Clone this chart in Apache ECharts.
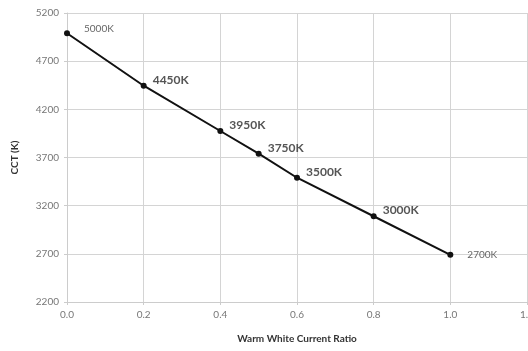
<!DOCTYPE html>
<html><head><meta charset="utf-8">
<script src="https://cdn.jsdelivr.net/npm/echarts@6/dist/echarts.min.js"></script>
<style>html,body{margin:0;padding:0;background:#fff}#c{width:528px;height:351px}</style>
</head><body><div id="c"></div>
<script>
const ratios = [0.0, 0.2, 0.4, 0.5, 0.6, 0.8, 1.0];
const cct = [4990, 4445, 3975, 3740, 3490, 3090, 2690];
const pointLabels = ['5000K', '4450K', '3950K', '3750K', '3500K', '3000K', '2700K'];
const boldLabel = [false, true, true, true, true, true, false];

const chart = echarts.init(document.getElementById('c'));
chart.setOption({
  animation: false,
  grid: {left: 67, right: 1, top: 13, bottom: 49, outerBoundsMode: 'none', containLabel: false},
  xAxis: {
    type: 'value', min: 0, max: 1.2, interval: 0.2,
    name: 'Warm White Current Ratio', nameLocation: 'middle', nameGap: 32,
    nameTextStyle: {fontFamily: 'Lato', fontWeight: 'bold', fontSize: 10, color: '#333'},
    axisLine: {show: true, lineStyle: {color: '#ccc'}},
    axisTick: {show: true, length: 3, lineStyle: {color: '#ccc'}},
    axisLabel: {color: '#777', fontFamily: 'Lato', fontSize: 10, margin: 8,
      formatter: v => v.toFixed(1)},
    splitLine: {show: true, lineStyle: {color: '#d4d4d4'}}
  },
  yAxis: {
    type: 'value', min: 2200, max: 5200, interval: 500,
    name: 'CCT (K)', nameLocation: 'middle', nameGap: 47, nameRotate: 90,
    nameTextStyle: {fontFamily: 'Lato', fontWeight: 'bold', fontSize: 10, color: '#333'},
    axisLine: {show: true, lineStyle: {color: '#ccc'}},
    axisTick: {show: true, length: 3, lineStyle: {color: '#ccc'}},
    axisLabel: {color: '#777', fontFamily: 'Lato', fontSize: 10, margin: 8,
      formatter: v => String(v)},
    splitLine: {show: true, lineStyle: {color: '#d4d4d4'}}
  },
  series: [{
    type: 'line',
    data: ratios.map((r, i) => ({
      value: [r, cct[i]],
      label: {
        show: true, position: 'right', distance: boldLabel[i] ? 6 : 14,
        offset: [0, boldLabel[i] ? -6 : (i === 0 ? -4 : 0)],
        formatter: pointLabels[i],
        fontFamily: 'Lato', fontSize: boldLabel[i] ? 12 : 10,
        fontWeight: boldLabel[i] ? 'bold' : 'normal',
        color: boldLabel[i] ? '#555' : '#666'
      }
    })),
    symbol: 'circle', symbolSize: 6,
    lineStyle: {color: '#111', width: 2},
    itemStyle: {color: '#111'}
  }]
});
</script></body></html>
